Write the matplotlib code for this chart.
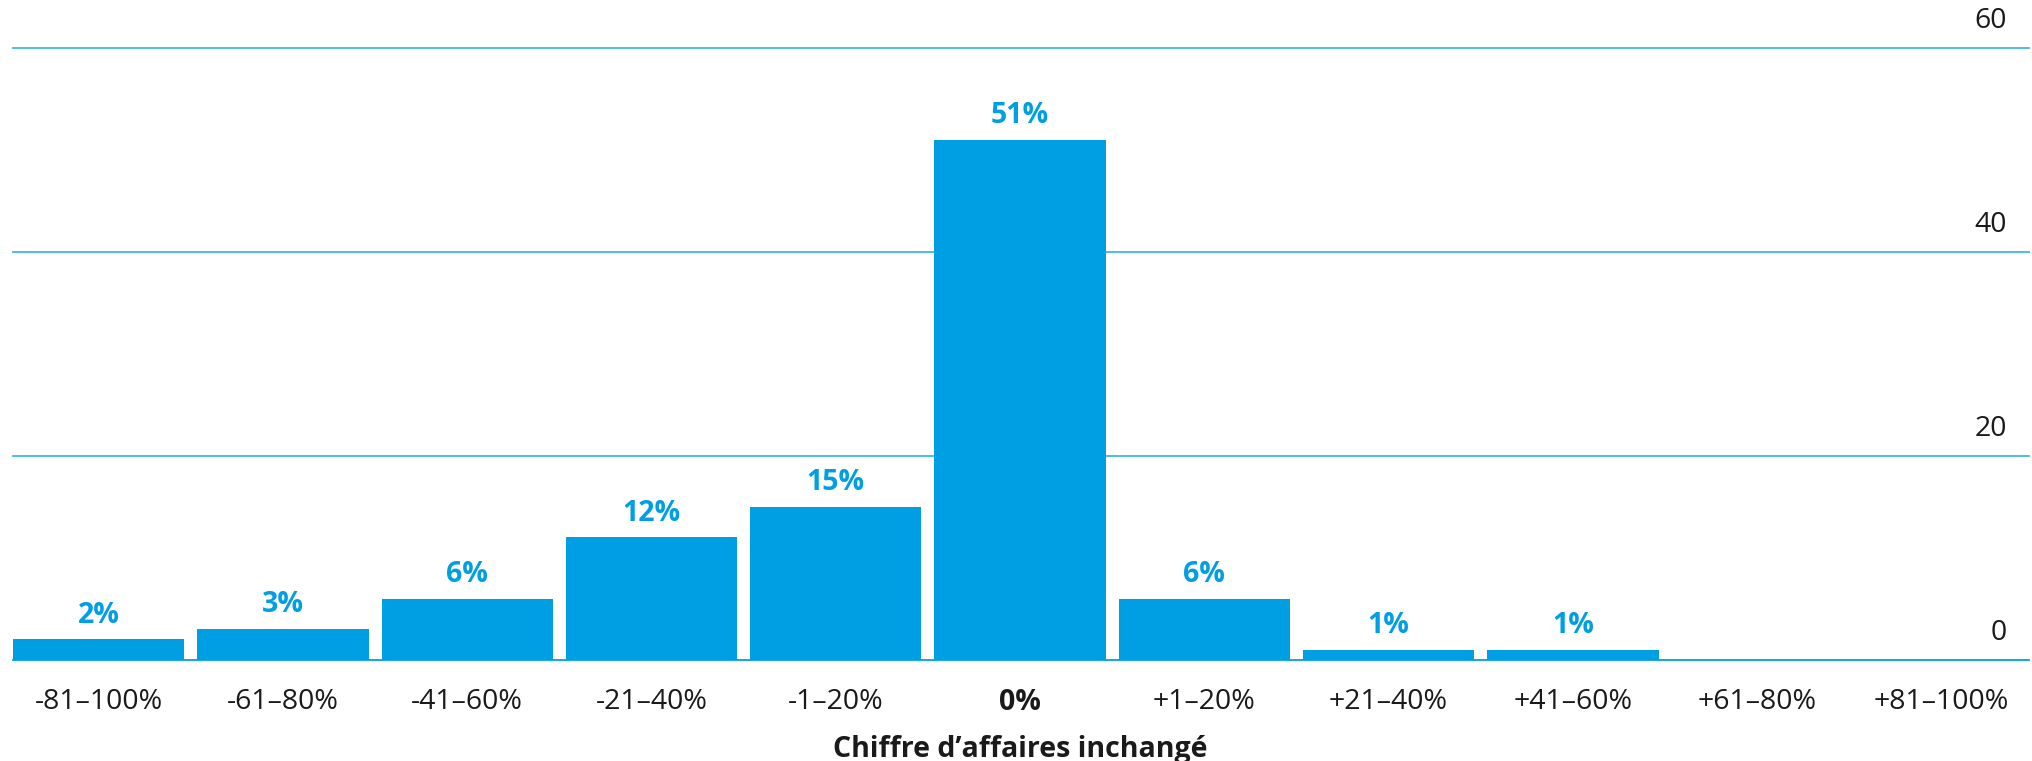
import matplotlib
matplotlib.use("Agg")
import matplotlib.pyplot as plt

categories = ["-81–100%", "-61–80%", "-41–60%", "-21–40%", "-1–20%", "0%",
              "+1–20%", "+21–40%", "+41–60%", "+61–80%", "+81–100%"]
values = [2, 3, 6, 12, 15, 51, 6, 1, 1, 0, 0]
value_labels = ["2%", "3%", "6%", "12%", "15%", "51%", "6%", "1%", "1%", "", ""]
y_ticks = [0, 20, 40, 60]
sub_label = "Chiffre d’affaires inchangé"

BLUE = "#009FE3"
GRID = "#3DB8EC"
TEXT = "#1a1a1a"

plt.rcParams['font.family'] = ['Open Sans', 'DejaVu Sans']

fig = plt.figure(figsize=(20.33, 7.61), dpi=100)
ax = fig.add_axes([0.0064, 0.133, 0.9916, 0.804])

x = list(range(len(categories)))
ax.bar(x, values, width=0.93, color=BLUE, zorder=3)
ax.set_xlim(-0.465, 10.475)
ax.set_ylim(0, 60)

for yt in y_ticks:
    ax.axhline(yt, color=BLUE if yt == 0 else GRID, lw=1.3, zorder=4 if yt == 0 else 1,
               clip_on=False)
    ax.annotate(str(yt), xy=(1.0, yt), xycoords=("axes fraction", "data"),
                xytext=(-16, 9), textcoords="offset points",
                ha="right", va="bottom", fontsize=20.5, color=TEXT)

for xi, v, lab in zip(x, values, value_labels):
    if lab:
        ax.annotate(lab, xy=(xi, v), xytext=(0, 7), textcoords="offset points",
                    ha="center", va="bottom", fontsize=20.5, fontweight="bold",
                    color=BLUE)

ax.set_xticks(x)
ax.set_xticklabels(categories, fontsize=20.5, color=TEXT)
for t, c in zip(ax.get_xticklabels(), categories):
    if c == "0%":
        t.set_fontweight("bold")
ax.tick_params(axis="x", length=0, pad=20)
ax.set_yticks([])
for s in ax.spines.values():
    s.set_visible(False)

ax.text(5, -0.123, sub_label, transform=ax.get_xaxis_transform(),
        ha="center", va="top", fontsize=20.5, fontweight="bold", color=TEXT)

fig.savefig("out.png", dpi=100)
